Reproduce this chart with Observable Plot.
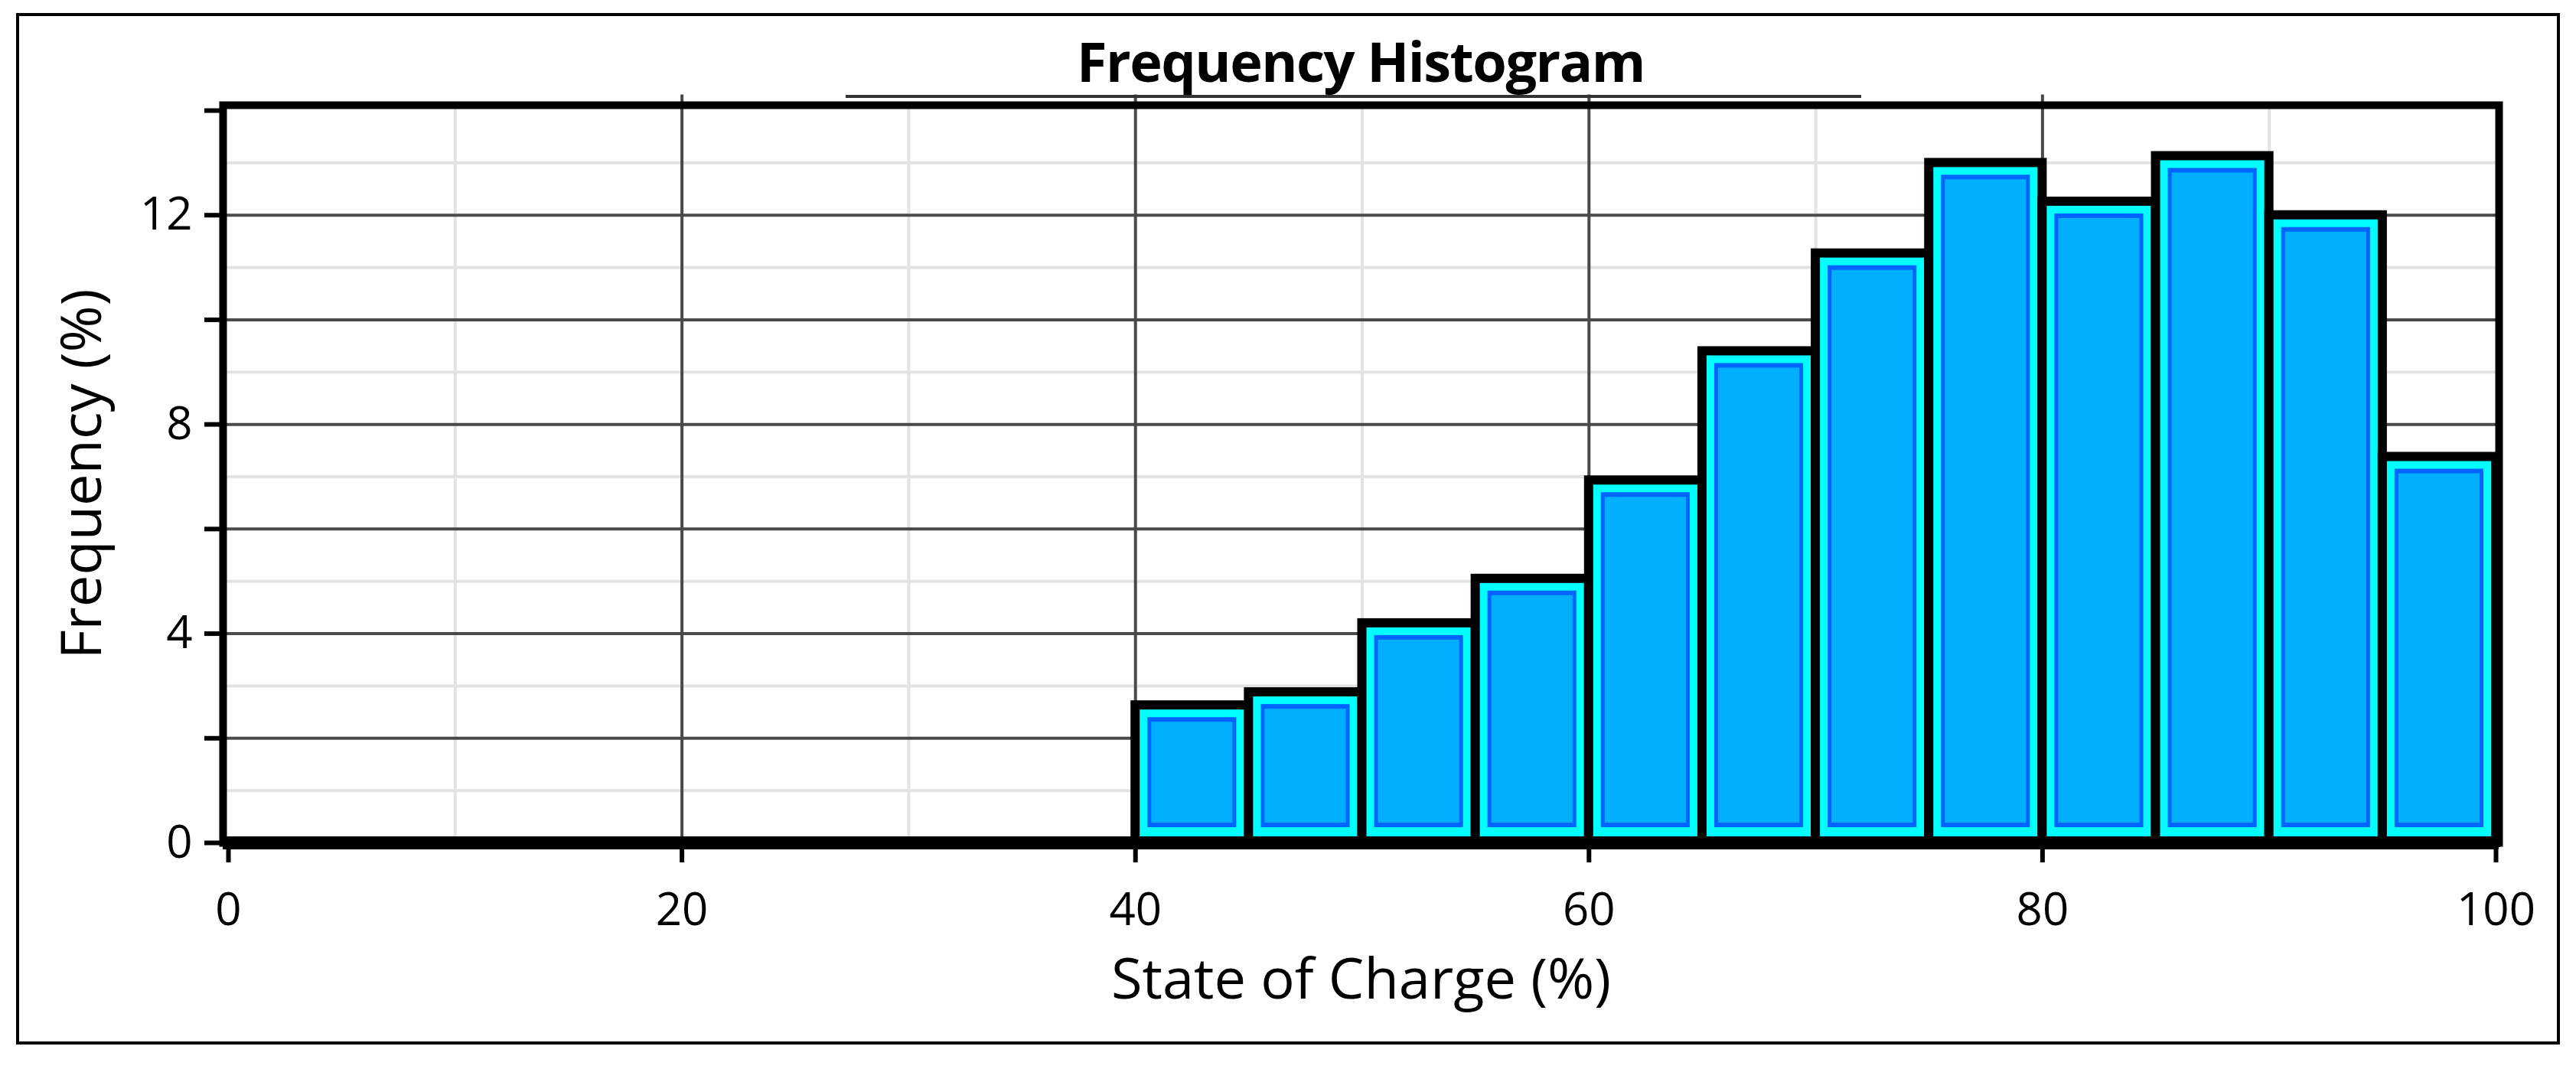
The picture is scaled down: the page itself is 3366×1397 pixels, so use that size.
<!DOCTYPE html>
<html>
<head>
<meta charset="utf-8">
<script src="https://cdn.jsdelivr.net/npm/d3@7"></script>
<script src="https://cdn.jsdelivr.net/npm/@observablehq/plot@0.6"></script>
<style>
  html, body { margin: 0; padding: 0; background: white; }
  #wrap { position: relative; width: 3366px; height: 1397px; background: white; overflow: hidden; }
  #chart { position: absolute; left: 0; top: 0; }
  #chart svg { overflow: visible; max-width: none; }
  #border { position: absolute; left: 21px; top: 17px; width: 3324px; height: 1348px; border: 4px solid #000; box-sizing: border-box; pointer-events: none; }
  #title { position: absolute; left: 291px; width: 2974px; top: 43px; text-align: center; font: bold 72px/1 "Open Sans", sans-serif; letter-spacing: -1.5px; color: #000; }
  #tline { position: absolute; left: 1105px; top: 124px; width: 1327px; height: 4px; background: #333; }
</style>
</head>
<body>
<div id="wrap">
  <div id="chart"></div>
  <div id="tline"></div>
  <div id="border"></div>
  <div id="title">Frequency Histogram</div>
</div>
<script>
// ---- data ----
const binStart = [40, 45, 50, 55, 60, 65, 70, 75, 80, 85, 90, 95];
const binEnd   = [45, 50, 55, 60, 65, 70, 75, 80, 85, 90, 95, 100];
const frequency = [2.63, 2.88, 4.2, 5.05, 6.93, 9.4, 11.27, 13.0, 12.26, 13.13, 12.0, 7.38];

const xTickValues = [0, 20, 40, 60, 80, 100];
const yTickLabels = [0, 4, 8, 12];
const yTickMarks = [0, 2, 4, 6, 8, 10, 12, 14];
const xMajorGrid = [20, 40, 60, 80];
const xMinorGrid = [10, 30, 50, 70, 90];
const yMajorGrid = [2, 4, 6, 8, 10, 12];
const yMinorGrid = [1, 3, 5, 7, 9, 11, 13];

const xLabel = "State of Charge (%)";
const yLabel = "Frequency (%)";

const bins = binStart.map((s, i) => ({start: s, end: binEnd[i], freq: frequency[i]}));
const fmt = d3.format("d");

const chart = Plot.plot({
  width: 3366,
  height: 1397,
  marginLeft: 291,
  marginRight: 101,
  marginTop: 137,
  marginBottom: 296,
  style: {fontFamily: "'Open Sans', sans-serif", background: "transparent", color: "#000"},
  x: {domain: [0, 100], insetLeft: 7, insetRight: 4, label: null},
  y: {domain: [0, 14], insetTop: 7, label: null},
  marks: [
    Plot.ruleY(yMinorGrid, {stroke: "#e3e3e3", strokeWidth: 4}),
    Plot.ruleX(xMinorGrid, {stroke: "#e3e3e3", strokeWidth: 4}),
    Plot.ruleY(yMajorGrid, {stroke: "#4a4a4a", strokeWidth: 4}),
    Plot.ruleX(xMajorGrid, {y1: 0, y2: 14.3, stroke: "#4a4a4a", strokeWidth: 4}),
    Plot.rectY(bins, {x1: "start", x2: "end", y: "freq", fill: "#00FFFF", stroke: "#000", strokeWidth: 12}),
    Plot.rectY(bins, {x1: "start", x2: "end", y: "freq", fill: "#0064FF", insetLeft: 16, insetRight: 16, insetTop: 16, insetBottom: 20}),
    Plot.rectY(bins, {x1: "start", x2: "end", y: "freq", fill: "#00B0FF", insetLeft: 21, insetRight: 21, insetTop: 22, insetBottom: 26}),
    Plot.frame({stroke: "#000", strokeWidth: 10}),
    Plot.ruleY([0], {stroke: "#000", strokeWidth: 17}),
    Plot.axisX(xTickValues, {tickSize: 26, tickPadding: 39, strokeWidth: 6, fontSize: 60, tickFormat: fmt, label: null}),
    Plot.axisY(yTickMarks, {tickSize: 24, strokeWidth: 6, tickFormat: () => "", label: null}),
    Plot.axisY(yTickLabels, {tickSize: 0, tickPadding: 40, fontSize: 60, tickFormat: fmt, label: null}),
    Plot.text([xLabel], {frameAnchor: "bottom", dy: 180, fontSize: 74, lineAnchor: "middle", textAnchor: "middle"}),
    Plot.text([yLabel], {frameAnchor: "left", rotate: -90, dx: -183, dy: 0, fontSize: 74, lineAnchor: "middle", textAnchor: "middle"})
  ]
});
document.getElementById("chart").appendChild(chart);
</script>
</body>
</html>
